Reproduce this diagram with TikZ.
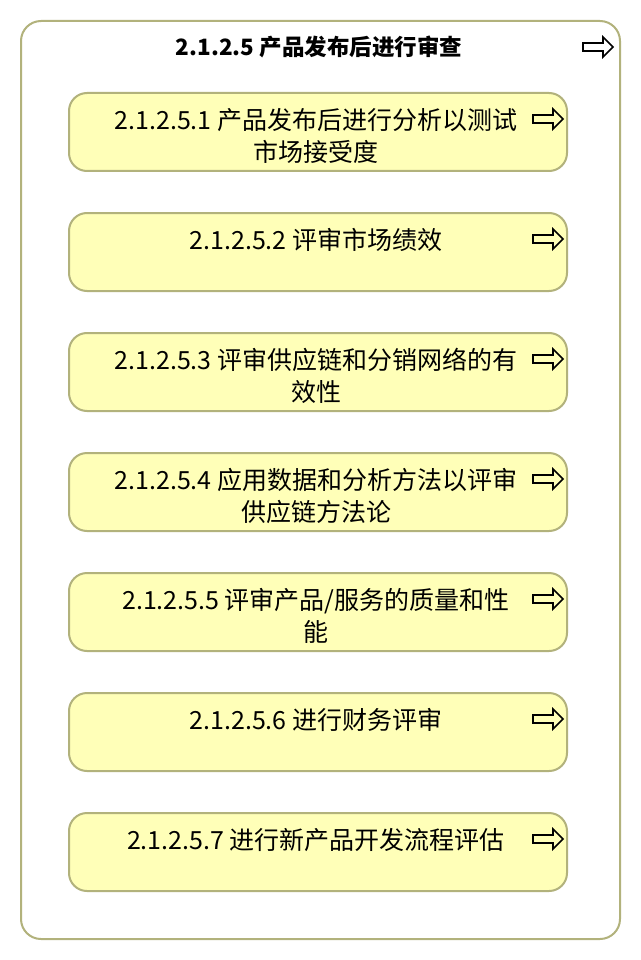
\documentclass[tikz,border=0pt]{standalone}
\usepackage{fontspec}
\setmainfont{Noto Sans CJK SC}
\usepackage{tikz}

\definecolor{boxline}{HTML}{B2B27C}
\definecolor{boxfill}{HTML}{FFFFB8}

\begin{document}
\begin{tikzpicture}[x=1pt, y=-1pt,
    group/.style = {draw=boxline, line width=2pt, fill=white, rounded corners=20pt},
    task/.style = {draw=boxline, line width=2pt, fill=boxfill, rounded corners=18pt,
        minimum width=498pt, minimum height=78pt, inner sep=0pt},
    label/.style = {align=center, inner sep=0pt, font=\fontsize{25}{32}\selectfont},
    goto/.pic = {\draw[line width=1.6pt, line join=miter]
        (-15,-4) -- (5,-4) -- (5,-10) -- (15,0) -- (5,10) -- (5,4) -- (-15,4) -- cycle;}]
    \useasboundingbox (0,0) rectangle (640,960);
    % outer frame
    \draw[group] (21,21) rectangle (620,939);
    \node[font=\fontsize{22.5}{26}\selectfont\bfseries] (title) at (319,47) {2.1.2.5 产品发布后进行审查};
    \pic (titlego) at (598,47) {goto};
    % sub steps
    \foreach \i/\txt in {1/{2.1.2.5.1 产品发布后进行分析以测试\\市场接受度},
                         2/{2.1.2.5.2 评审市场绩效},
                         3/{2.1.2.5.3 评审供应链和分销网络的有\\效性},
                         4/{2.1.2.5.4 应用数据和分析方法以评审\\供应链方法论},
                         5/{2.1.2.5.5 评审产品/服务的质量和性\\能},
                         6/{2.1.2.5.6 进行财务评审},
                         7/{2.1.2.5.7 进行新产品开发流程评估}} {
        \node[task] (step\i) at (318, 12+120*\i) {};
        \node[label, anchor=north] (text\i) at ([xshift=-2pt, yshift=-16pt]step\i.north) {\txt};
        \pic (go\i) at ([xshift=-20pt, yshift=-27pt]step\i.north east) {goto};
    }
\end{tikzpicture}
\end{document}
